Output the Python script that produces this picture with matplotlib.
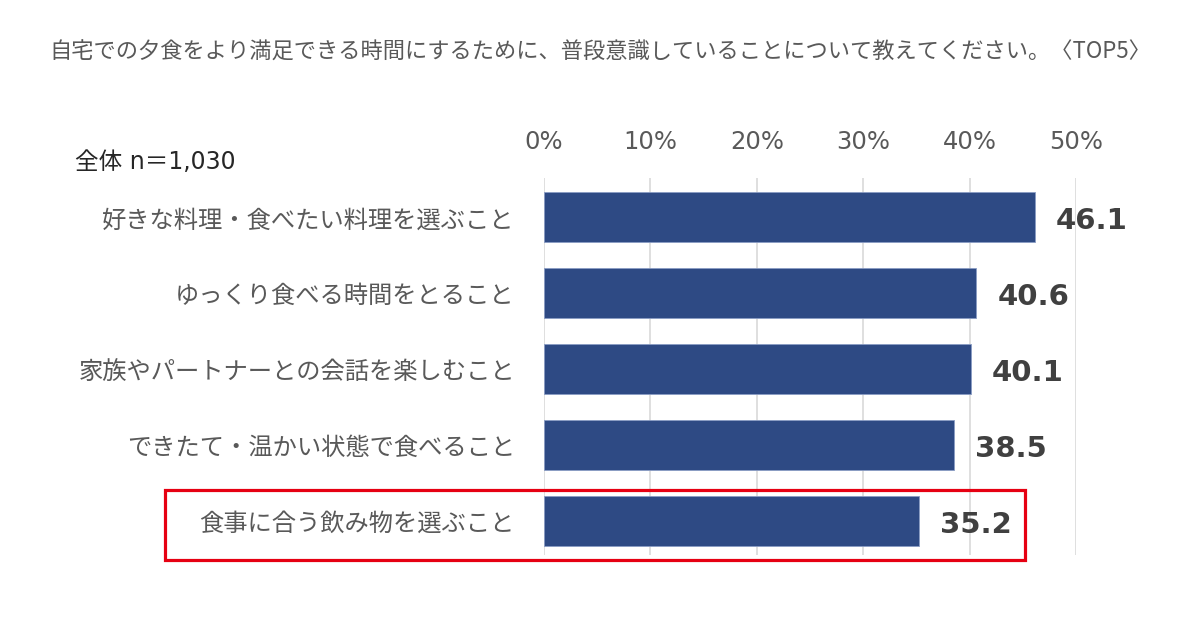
# -*- coding: utf-8 -*-

import matplotlib
matplotlib.use("Agg")
from matplotlib import pyplot as plt
from matplotlib.patches import Rectangle

plt.rcParams['font.family'] = ['Noto Sans CJK JP', 'DejaVu Sans']

lTitle = u"自宅での夕食をより満足できる時間にするために、普段意識していることについて教えてください。〈TOP5〉"
lSample = u"全体 n＝1,030"
lCategories = [u"好きな料理・食べたい料理を選ぶこと",
               u"ゆっくり食べる時間をとること",
               u"家族やパートナーとの会話を楽しむこと",
               u"できたて・温かい状態で食べること",
               u"食事に合う飲み物を選ぶこと"]
lValues = [46.1, 40.6, 40.1, 38.5, 35.2]
lTicks = [0, 10, 20, 30, 40, 50]
lTickLabels = [u"0%", u"10%", u"20%", u"30%", u"40%", u"50%"]


def draw_chart():
    fig = plt.figure(figsize=(12, 6.18), dpi=100)
    ax = fig.add_axes([0.4533, 0.1019, 0.4434, 0.6101])

    lPos = list(range(len(lCategories)))
    ax.barh(lPos, lValues, height=0.66, color="#2E4A84",
            edgecolor="#8A9CC4", linewidth=0.6, zorder=3)

    for p, v in zip(lPos, lValues):
        ax.text(v + 2.0, p + 0.05, "%.1f" % v, ha="left", va="center",
                fontsize=21, fontweight="bold", color="#404040",
                family=["DejaVu Sans"])

    ax.set_xlim(0, 50)
    ax.set_ylim(4.45, -0.52)
    ax.set_xticks(lTicks)
    ax.set_xticklabels(lTickLabels, fontsize=17.5, color="#595959",
                       family=["DejaVu Sans"])
    ax.xaxis.tick_top()
    ax.tick_params(axis="x", length=0, pad=17)
    ax.set_yticks(lPos)
    ax.set_yticklabels(lCategories, fontsize=17.5, color="#595959")
    ax.tick_params(axis="y", length=0, pad=21)

    ax.grid(axis="x", color="#D9D9D9", linewidth=1.2, zorder=0)
    for s in ax.spines.values():
        s.set_visible(False)

    fig.text(0.5, 0.915, lTitle, ha="center", va="center",
             fontsize=16.0, color="#595959")
    fig.text(0.0625, 0.738, lSample, ha="left", va="center",
             fontsize=17, color="#262626",
             family=["DejaVu Sans", "Noto Sans CJK JP"])

    # highlight box around the last row
    fig.patches.append(Rectangle((0.1375, 0.0939), 0.7167, 0.1133,
                                 transform=fig.transFigure, fill=False,
                                 edgecolor="#E60012", linewidth=2.3))

    fig.savefig("out.png", dpi=100)


if __name__ == "__main__":
    draw_chart()
